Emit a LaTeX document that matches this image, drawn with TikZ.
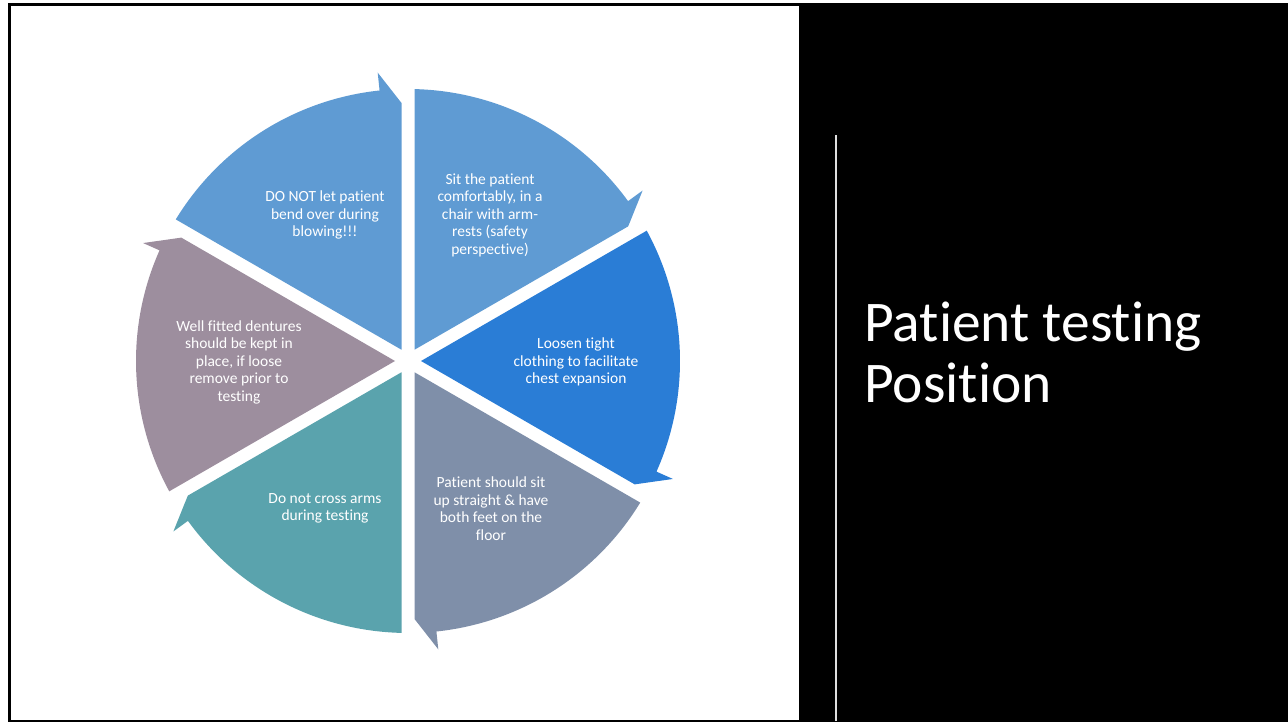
\documentclass[tikz,border=0pt]{standalone}
\usepackage{fontspec}
\setmainfont{Carlito}[Ligatures=NoCommon]
\usetikzlibrary{calc}

\definecolor{segSky}{HTML}{5F9BD3}
\definecolor{segBlue}{HTML}{2A7DD6}
\definecolor{segSlate}{HTML}{7F8FA9}
\definecolor{segTeal}{HTML}{5AA3AD}
\definecolor{segMauve}{HTML}{9D8E9E}

\begin{document}
\begin{tikzpicture}[
  x=1pt, y=1pt,
  segtext/.style={
    text=white, align=center, inner sep=0pt,
    font=\fontsize{15.5}{17.5}\selectfont},
  headline/.style={
    text=white, anchor=base west, align=left, inner sep=0pt,
    font=\fontsize{57.5}{61.5}\selectfont},
]
  \useasboundingbox (0,0) rectangle (1288,721);

  % ── Slide frame and dark side panel ─────────────────────────────────────
  \draw[line width=3pt] (9,-0.8) rectangle (1290,716.5);
  \fill[black] (799,0) rectangle (1288,718);
  \draw[gray!25, line width=2pt] (836,0) -- (836,586);

  % ── Cycle segments: outer arc, arrow tip at the clockwise end ──────────
  % centre of the cycle at (408,360); gaps are 13pt wide strips
  \begin{scope}[shift={(408,360)}]
    \foreach \s/\col in {90/segSky, 30/segBlue, -30/segSlate,
                         -90/segTeal, -150/segMauve, 150/segSky}
    {
      \pgfmathsetmacro{\e}{\s-60}
      \fill[\col] ({\s-30}:13) -- ({\s-1.37}:272)
        arc[start angle={\s-1.37}, end angle={\e+6}, radius=272]
        -- ({\e+6}:290)
        -- ([shift={({\e+90}:6.5)}]\e:258) -- cycle;
    }
  \end{scope}

  % ── Segment texts ───────────────────────────────────────────────────────
  \node[segtext] (sit)     at (490,506)
      {Sit the patient\\comfortably, in a\\chair with arm-\\rests (safety\\perspective)};
  \node[segtext] (loosen)  at (576,359)
      {Loosen tight\\clothing to facilitate\\chest expansion};
  \node[segtext] (upright) at (491,212.5)
      {Patient should sit\\up straight \& have\\both feet on the\\floor};
  \node[segtext] (arms)    at (325,212.5)
      {Do not cross arms\\during testing};
  \node[segtext] (dentures) at (239,359)
      {Well fitted dentures\\should be kept in\\place, if loose\\remove prior to\\testing};
  \node[segtext] (bend)    at (325,506)
      {DO NOT let patient\\bend over during\\blowing!!!};

  % ── Title on the dark panel (anchor is the second line's baseline) ─────
  \node[headline] (title) at (864,318) {Patient testing\\Position};

\end{tikzpicture}
\end{document}
